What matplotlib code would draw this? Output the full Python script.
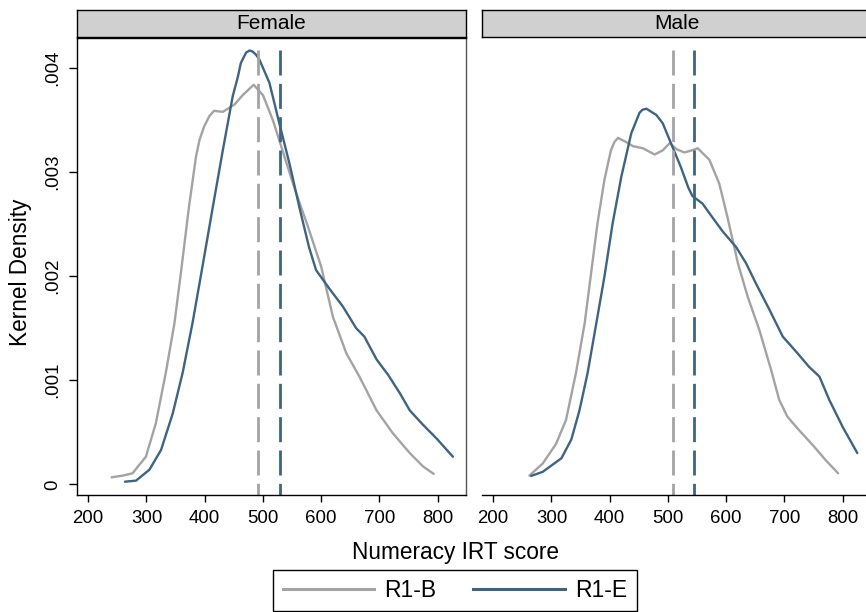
import matplotlib
matplotlib.use("Agg")
import matplotlib.pyplot as plt
import numpy as np

plt.rcParams['font.family'] = ['Liberation Sans', 'DejaVu Sans']

# kernel density curves (density in units of 1/1000)
fem_b_x = [240, 259, 276, 299, 316, 333, 348, 359, 373, 385, 391, 399, 408, 416, 431, 451, 465, 484,
           500, 517, 534, 555, 577, 600, 620, 643, 666, 695, 723, 752, 775, 793]
fem_b_y = [0.067, 0.083, 0.106, 0.265, 0.586, 1.067, 1.548, 2.03, 2.67, 3.15, 3.31, 3.44, 3.54, 3.59, 3.58, 3.65, 3.74, 3.84,
           3.74, 3.50, 3.20, 2.83, 2.48, 2.09, 1.61, 1.26, 1.03, 0.71, 0.49, 0.30, 0.17, 0.10]

fem_e_x = [263, 282, 305, 325, 345, 362, 379, 396, 414, 431, 448, 457, 462, 471, 477, 482, 488, 494, 511,
           528, 546, 563, 579, 591, 614, 637, 660, 674, 695, 715, 735, 752, 775, 798, 826]
fem_e_y = [0.025, 0.035, 0.14, 0.33, 0.68, 1.07, 1.55, 2.09, 2.67, 3.21, 3.73, 3.92, 4.05, 4.15, 4.17, 4.16, 4.13, 4.08, 3.86,
           3.47, 3.07, 2.65, 2.28, 2.06, 1.88, 1.71, 1.50, 1.42, 1.20, 1.05, 0.875, 0.71, 0.57, 0.44, 0.265]

male_b_x = [262, 285, 308, 325, 342, 357, 368, 379, 391, 402, 408, 414, 428, 440, 457, 477, 491,
            503, 515, 528, 541, 551, 571, 588, 602, 620, 637, 657, 677, 691, 705, 725, 748, 771, 792]
male_b_y = [0.083, 0.20, 0.39, 0.62, 1.07, 1.55, 2.03, 2.51, 2.93, 3.21, 3.29, 3.33, 3.29, 3.25, 3.23, 3.17, 3.21,
            3.28, 3.22, 3.19, 3.21, 3.23, 3.12, 2.89, 2.57, 2.125, 1.80, 1.48, 1.10, 0.81, 0.65, 0.52, 0.38, 0.23, 0.106]

male_e_x = [265, 285, 317, 334, 348, 362, 377, 391, 405, 420, 437, 451, 456, 463, 480, 491, 505,
            522, 535, 542, 559, 577, 594, 617, 634, 651, 674, 697, 720, 742, 760, 777, 800, 825]
male_e_y = [0.08, 0.12, 0.25, 0.43, 0.71, 1.07, 1.55, 2.00, 2.51, 2.96, 3.375, 3.57, 3.60, 3.61, 3.55, 3.47, 3.28,
            3.05, 2.85, 2.77, 2.70, 2.56, 2.43, 2.28, 2.125, 1.93, 1.68, 1.42, 1.275, 1.13, 1.035, 0.81, 0.55, 0.30]

# mean scores (dashed lines)
fem_means = [491.5, 529]
male_means = [508, 544]

panels = ['Female', 'Male']
series = ['R1-B', 'R1-E']
colors = ['#a3a3a3', '#3e6483']
xticks = [200, 300, 400, 500, 600, 700, 800]
yticks = [0, 0.001, 0.002, 0.003, 0.004]
ytick_labels = ['0', '.001', '.002', '.003', '.004']

W, H = 866, 612
fig = plt.figure(figsize=(W / 100, H / 100), dpi=100)

def box(x0, y0, x1, y1):
    return [x0 / W, 1 - y1 / H, (x1 - x0) / W, (y1 - y0) / H]

ax1 = fig.add_axes(box(77, 38, 466, 495))
ax2 = fig.add_axes(box(482, 38, 871, 495))

data = [
    [(fem_b_x, fem_b_y), (fem_e_x, fem_e_y)],
    [(male_b_x, male_b_y), (male_e_x, male_e_y)],
]
means = [fem_means, male_means]

ytop_line = 0.00417
ylo, yhi = -0.000103, 0.00429

for i, ax in enumerate([ax1, ax2]):
    for j, (xs, ys) in enumerate(data[i]):
        ax.plot(xs, np.array(ys) / 1000, color=colors[j], lw=1.7,
                solid_capstyle='round', solid_joinstyle='round')
    for j, m in enumerate(means[i]):
        ax.plot([m, m], [ytop_line, ylo], color=colors[j], lw=2.0, dashes=(9, 3))
    ax.set_xlim(180.7, 848.5)
    ax.set_ylim(ylo, yhi)
    ax.set_xticks(xticks)
    ax.set_xticklabels([str(t) for t in xticks])
    ax.tick_params(axis='x', direction='out', length=5, width=1, pad=5.5, labelsize=13.4, colors='black')
    for s in ['left', 'right', 'top', 'bottom']:
        ax.spines[s].set_linewidth(1.0)
        ax.spines[s].set_color('black')

ax1.set_yticks(yticks)
ax1.set_yticklabels(ytick_labels, rotation=90, va='center')
ax1.tick_params(axis='y', direction='out', length=6, width=1, pad=5, labelsize=13.4)
ax1.spines['right'].set_color('#555555')

ax2.set_yticks([])
for s in ['left', 'right', 'top']:
    ax2.spines[s].set_visible(False)

# facet strips
for name, (x0, x1) in zip(panels, [(77, 466), (482, 871)]):
    st = fig.add_axes(box(x0, 10, x1, 37))
    st.set_facecolor('#d0d0d0')
    st.set_xticks([])
    st.set_yticks([])
    for s in st.spines.values():
        s.set_linewidth(1.0)
        s.set_color('black')
    st.text(0.5, 0.5, name, transform=st.transAxes, ha='center', va='center', fontsize=15)

fig.text(456 / W, 1 - 552 / H, 'Numeracy IRT score', ha='center', va='center', fontsize=16.3)
fig.text(21 / W, 1 - 272 / H, 'Kernel Density', ha='center', va='center', rotation=90, fontsize=16.3)

handles = [plt.Line2D([], [], color=c, lw=2.2) for c in colors]
leg = fig.legend(handles, series, loc='center', bbox_to_anchor=(455 / W, 1 - 590.5 / H),
                 ncol=2, frameon=True, fancybox=False, edgecolor='black', framealpha=1,
                 fontsize=16.5, handlelength=4.0, handletextpad=0.45, columnspacing=1.6,
                 borderpad=0.4)
leg.get_frame().set_linewidth(1.0)

fig.savefig('out.png', dpi=100)
